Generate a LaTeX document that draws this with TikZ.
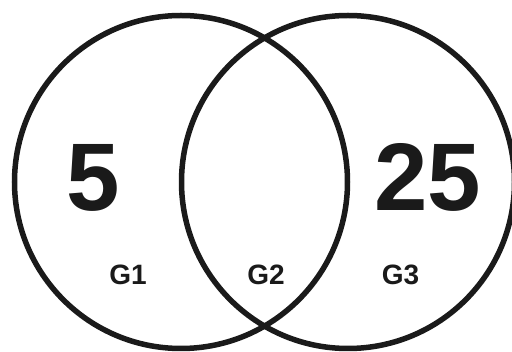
\documentclass[tikz,border=0pt]{standalone}
\usepackage{fontspec}
\setmainfont{Liberation Sans}
\usepackage{tikz}
\usetikzlibrary{positioning, calc}
\definecolor{background}{HTML}{ffffff}
\definecolor{ink}{HTML}{1a1a1a}
\newcommand{\setsize}{333pt}
\tikzset{
    set/.style={draw=ink, circle, line width=5.5pt, minimum size=\setsize, inner sep=0pt, anchor=center},
    count/.style={text=ink, font=\fontsize{96}{96}\selectfont\bfseries, inner sep=0pt, anchor=center},
    region/.style={text=ink, font=\fontsize{28}{28}\selectfont\bfseries, inner sep=0pt, anchor=center},
}
\begin{document}
\begin{tikzpicture}[x=1pt, y=-1pt]
        \useasboundingbox[fill=background] (0,0) rectangle (512,352);
        % Sets
        \node (left) [set] at (181, 182) {};
        \node (right) [set] at (348, 182) {};
        % Counts
        \node (n1) [count] at (93.5, 177.5) {5};
        \node (n3) [count] at (428, 177.5) {25};
        % Regions
        \node (g1) [region] at (128, 275) {G1};
        \node (g2) [region] at ($(left.center)!0.5!(right.center) + (1.5, 93)$) {G2};
        \node (g3) [region] at (400.5, 275) {G3};
    \end{tikzpicture}
\end{document}
